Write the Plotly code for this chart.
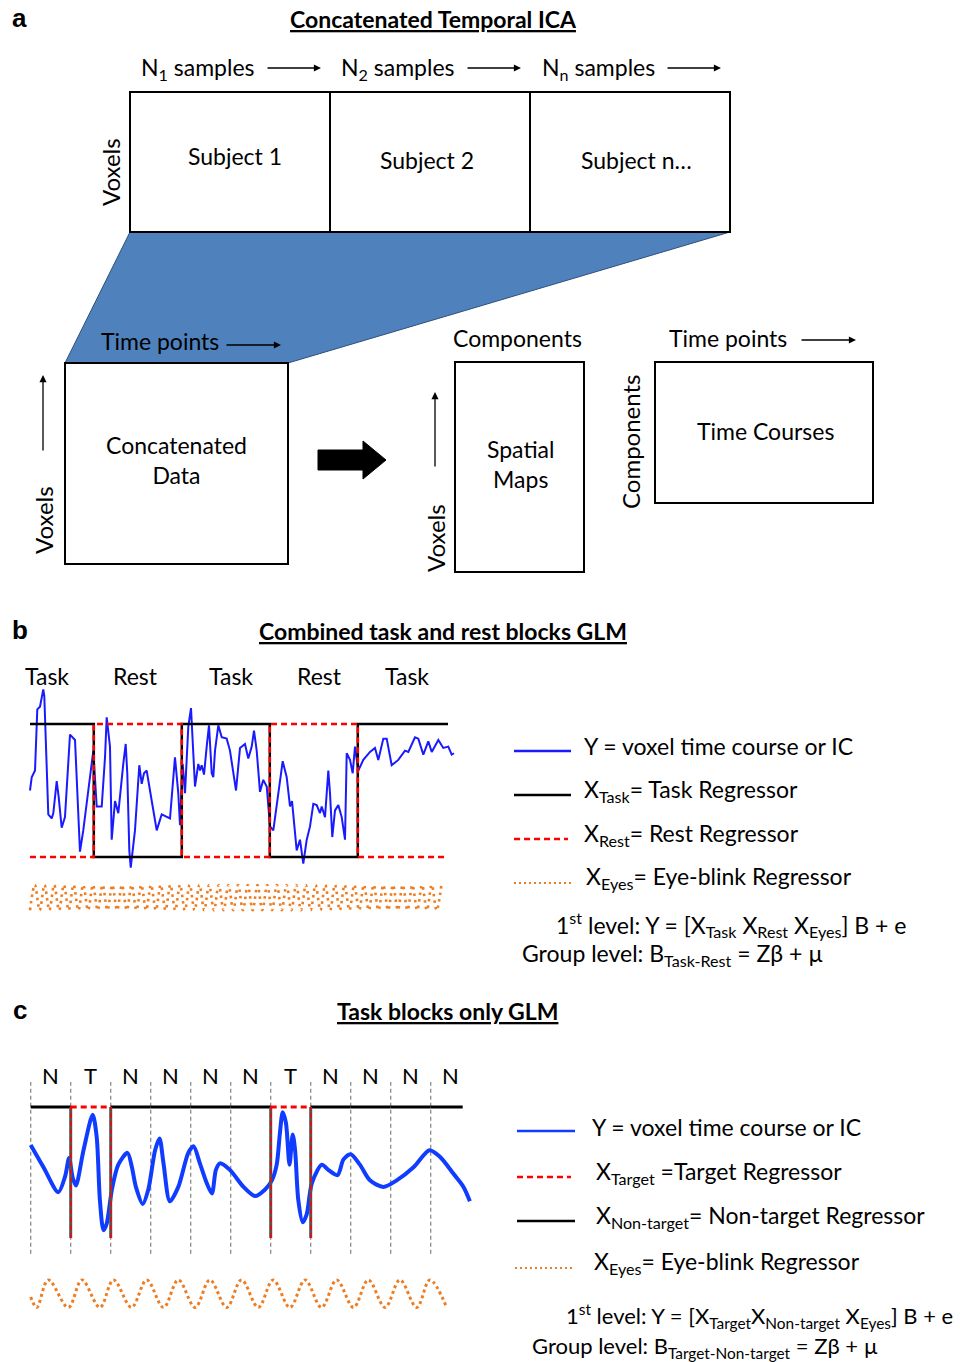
import plotly.graph_objects as go

W, H = 960, 1362

# ---------------- Panel b data (time units, regressor units) ----------------
b_block_edges = [0, 14.5, 34.5, 54.5, 74.5, 95.0]
b_block_labels = ["Task", "Rest", "Task", "Rest", "Task"]
b_label_t = [3.9, 23.9, 45.7, 65.7, 85.7]
b_task = [1, 0, 1, 0, 1]
b_rest = [0, 1, 0, 1, 0]
b_rest_end = 94.3

b_y_t = [0.0, 0.39, 1.14, 1.66, 2.27, 3.02, 3.25, 3.80, 4.16, 4.93, 5.30, 6.07, 6.52, 7.20, 7.95,
         9.09, 10.23, 11.36, 12.11, 13.25, 14.39, 15.16, 16.30, 17.05, 17.43, 18.18, 18.57, 19.32,
         20.07, 21.20, 21.75, 22.11, 22.57, 22.89, 23.86, 24.84, 25.39, 25.91, 26.52, 27.27, 28.80,
         29.93, 31.07, 31.82, 32.95, 33.70, 34.09, 34.70, 35.23, 35.98, 36.59, 36.98, 37.50, 38.25,
         38.64, 39.02, 39.55, 40.16, 40.68, 41.30, 41.66, 42.05, 42.80, 43.57, 44.70, 45.45, 46.82,
         47.73, 48.86, 49.61, 50.39, 50.91, 51.52, 52.27, 53.02, 53.80, 54.55, 55.30, 56.43, 57.43,
         58.34, 59.09, 59.55, 59.84, 60.61, 61.36, 62.11, 62.89, 63.64, 64.39, 65.16, 65.91, 66.30,
         67.05, 67.80, 68.18, 68.70, 69.32, 70.07, 70.84, 71.59, 71.98, 72.73, 73.34, 73.86, 74.61,
         75.75, 77.27, 78.41, 79.16, 80.30, 81.07, 82.20, 83.70, 85.23, 85.98, 87.50, 88.25, 89.39,
         90.52, 91.30, 92.80, 93.93, 95.07, 95.84, 96.36]
b_y_v = [0.50, 0.60, 0.65, 1.11, 1.13, 1.26, 1.21, 0.55, 0.32, 0.29, 0.33, 0.57, 0.45, 0.22, 0.30,
         0.92, 0.88, 0.04, 0.20, 0.50, 0.80, 0.38, 0.38, 0.75, 1.05, 0.83, 0.13, 0.42,
         0.33, 0.70, 0.85, 0.63, 0.05, -0.08, 0.20, 0.69, 0.55, 0.63, 0.65, 0.50, 0.20,
         0.32, 0.30, 0.29, 0.75, 0.48, 0.24, 0.70, 0.48, 0.98, 1.12, 0.88, 0.53, 0.70,
         0.65, 0.69, 0.62, 0.83, 0.99, 0.63, 0.60, 0.80, 0.99, 0.90, 0.89, 0.80, 0.50,
         0.82, 0.85, 0.74, 0.83, 0.95, 0.80, 0.49, 0.58, 0.53, 0.23, 0.20, 0.48, 0.72,
         0.60, 0.38, 0.42, 0.30, 0.05, 0.13, -0.05, 0.13, 0.23, 0.40, 0.39, 0.33, 0.38,
         0.30, 0.65, 0.48, 0.15, 0.35, 0.39, 0.30, 0.13, 0.78, 0.73, 0.63, 0.83, 0.65,
         0.73, 0.79, 0.82, 0.73, 0.89, 0.89, 0.69, 0.73, 0.80, 0.79, 0.90, 0.89, 0.77,
         0.87, 0.79, 0.88, 0.82, 0.83, 0.77, 0.78]

b_eye_t = [0.0, 1.1, 2.2, 3.3, 4.4, 5.5, 6.6, 7.7, 8.8, 9.9, 11.0, 12.1, 13.2, 14.3, 15.4, 16.5,
           17.6, 18.7, 19.8, 20.9, 22.0, 23.1, 24.2, 25.3, 26.4, 27.5, 28.6, 29.7, 30.8, 31.9,
           33.0, 34.1, 35.2, 36.3, 37.4, 38.5, 39.6, 40.7, 41.8, 42.9, 44.0, 45.1, 46.2, 47.3,
           48.4, 49.5, 50.6, 51.7, 52.8, 53.9, 55.0, 56.1, 57.2, 58.3, 59.4, 60.5, 61.6, 62.7,
           63.8, 64.9, 66.0, 67.1, 68.2, 69.3, 70.4, 71.5, 72.6, 73.7, 74.8, 75.9, 77.0, 78.1,
           79.2, 80.3, 81.4, 82.5, 83.6, 84.7, 85.8, 86.9, 88.0, 89.1, 90.2, 91.3, 92.4, 93.5]
b_eye_v = [-0.40, -0.21, -0.40, -0.21, -0.40, -0.21, -0.40, -0.21, -0.40, -0.21, -0.40, -0.21,
           -0.40, -0.21, -0.40, -0.21, -0.40, -0.21, -0.40, -0.21, -0.40, -0.21, -0.40, -0.21,
           -0.40, -0.21, -0.40, -0.21, -0.40, -0.21, -0.40, -0.21, -0.40, -0.21, -0.40, -0.21,
           -0.40, -0.21, -0.40, -0.21, -0.40, -0.21, -0.40, -0.21, -0.40, -0.21, -0.40, -0.21,
           -0.40, -0.21, -0.40, -0.21, -0.40, -0.21, -0.40, -0.21, -0.40, -0.21, -0.40, -0.21,
           -0.40, -0.21, -0.40, -0.21, -0.40, -0.21, -0.40, -0.21, -0.40, -0.21, -0.40, -0.21,
           -0.40, -0.21, -0.40, -0.21, -0.40, -0.21, -0.40, -0.21, -0.40, -0.21, -0.40, -0.21,
           -0.40, -0.21]

# ---------------- Panel c data (block units, regressor units) ----------------
c_blocks = ["N", "T", "N", "N", "N", "N", "T", "N", "N", "N", "N"]
c_end = 10.8
c_grid_top = 1.19
c_grid_bottom = -0.12

c_y_t = [0.00, 0.32, 0.69, 0.86, 0.96, 1.05, 1.13, 1.32, 1.55, 1.65, 1.73, 1.82, 1.90, 2.03, 2.19,
         2.42, 2.53, 2.63, 2.80, 2.94, 3.11, 3.22, 3.32, 3.48, 3.69, 3.94, 4.07, 4.23, 4.40, 4.53,
         4.63, 4.73, 4.98, 5.32, 5.61, 5.86, 6.03, 6.15, 6.23, 6.30, 6.38, 6.47, 6.55, 6.61, 6.69,
         6.80, 6.90, 7.03, 7.28, 7.44, 7.67, 7.82, 8.00, 8.23, 8.48, 8.82, 9.15, 9.57, 9.97, 10.23,
         10.57, 10.82, 10.98]
c_y_v = [0.71, 0.54, 0.35, 0.47, 0.61, 0.46, 0.40, 0.67, 0.94, 0.77, 0.29, 0.06, 0.11, 0.37, 0.56,
         0.65, 0.54, 0.39, 0.26, 0.37, 0.67, 0.76, 0.57, 0.28, 0.39, 0.65, 0.70, 0.57, 0.42, 0.34,
         0.52, 0.57, 0.52, 0.39, 0.32, 0.37, 0.44, 0.56, 0.80, 0.96, 0.88, 0.56, 0.79, 0.67, 0.29,
         0.12, 0.18, 0.42, 0.56, 0.52, 0.48, 0.60, 0.64, 0.56, 0.44, 0.39, 0.44, 0.54, 0.67, 0.62,
         0.49, 0.39, 0.28]

c_eye_t = [0.00, 0.15, 0.44, 0.94, 1.28, 1.73, 2.07, 2.52, 2.90, 3.32, 3.69, 4.11, 4.48, 4.90,
           5.27, 5.69, 6.06, 6.48, 6.86, 7.27, 7.65, 8.07, 8.44, 8.86, 9.23, 9.65, 9.98, 10.40]
c_eye_v = [-0.45, -0.53, -0.32, -0.53, -0.32, -0.53, -0.32, -0.53, -0.32, -0.53, -0.32, -0.53,
           -0.32, -0.53, -0.32, -0.53, -0.32, -0.53, -0.32, -0.53, -0.32, -0.53, -0.32, -0.53,
           -0.32, -0.53, -0.32, -0.53]

# ---------------- style ----------------
FONT = "Lato, Liberation Sans, sans-serif"
BLUE_B = "#1a1aff"
BLUE_C = "#0f3cff"
RED = "#ff0000"
ORANGE = "#ee7d22"
BOXBLUE = "#4f81bd"

fig = go.Figure()

# ---------------- Panel b traces ----------------
fig.add_trace(go.Scatter(x=b_y_t, y=b_y_v, mode="lines", xaxis="x2", yaxis="y2",
                         line=dict(color=BLUE_B, width=2), hoverinfo="skip"))
fig.add_trace(go.Scatter(x=b_eye_t, y=b_eye_v, mode="lines", xaxis="x2", yaxis="y2",
                         line=dict(color=ORANGE, width=2.6, dash="2.5px,4px", shape="spline"),
                         hoverinfo="skip"))
fig.add_trace(go.Scatter(x=b_block_edges, y=b_task + [b_task[-1]], mode="lines",
                         xaxis="x2", yaxis="y2", line=dict(color="black", width=2.5, shape="hv"),
                         hoverinfo="skip"))
fig.add_trace(go.Scatter(x=b_block_edges[:-1] + [b_rest_end], y=b_rest + [b_rest[-1]], mode="lines",
                         xaxis="x2", yaxis="y2",
                         line=dict(color=RED, width=2.5, dash="6px,4px", shape="hv"),
                         hoverinfo="skip"))

# ---------------- Panel c traces ----------------
grid_x, grid_y = [], []
for i in range(len(c_blocks)):
    grid_x += [i, i, None]
    grid_y += [c_grid_bottom, c_grid_top, None]
fig.add_trace(go.Scatter(x=grid_x, y=grid_y, mode="lines", xaxis="x3", yaxis="y3",
                         line=dict(color="#8c8c8c", width=1.3, dash="4px,3px"), hoverinfo="skip"))
fig.add_trace(go.Scatter(x=c_y_t, y=c_y_v, mode="lines", xaxis="x3", yaxis="y3",
                         line=dict(color=BLUE_C, width=4, shape="spline", smoothing=0.8),
                         hoverinfo="skip"))
fig.add_trace(go.Scatter(x=c_eye_t, y=c_eye_v, mode="lines", xaxis="x3", yaxis="y3",
                         line=dict(color=ORANGE, width=3, dash="dot", shape="spline"),
                         hoverinfo="skip"))
nt_x, nt_y, t_x, t_y, v_x, v_y = [], [], [], [], [], []
for i, lab in enumerate(c_blocks):
    x1 = min(i + 1, c_end)
    if lab == "N":
        nt_x += [i, x1, None]
        nt_y += [1, 1, None]
    else:
        t_x += [i, i + 1, None]
        t_y += [1, 1, None]
        v_x += [i, i, None, i + 1, i + 1, None]
        v_y += [0, 1, None, 0, 1, None]
fig.add_trace(go.Scatter(x=nt_x, y=nt_y, mode="lines", xaxis="x3", yaxis="y3",
                         line=dict(color="black", width=3), hoverinfo="skip"))
fig.add_trace(go.Scatter(x=v_x, y=v_y, mode="lines", xaxis="x3", yaxis="y3",
                         line=dict(color="#555555", width=3), hoverinfo="skip"))
fig.add_trace(go.Scatter(x=v_x, y=v_y, mode="lines", xaxis="x3", yaxis="y3",
                         line=dict(color=RED, width=1.5, dash="5px,3px"), hoverinfo="skip"))
fig.add_trace(go.Scatter(x=t_x, y=t_y, mode="lines", xaxis="x3", yaxis="y3",
                         line=dict(color=RED, width=3, dash="6px,4px"), hoverinfo="skip"))

# ---------------- legend samples (canvas coords) ----------------
def leg(x0, x1, y, color, width, dash):
    fig.add_trace(go.Scatter(x=[x0, x1], y=[y, y], mode="lines", xaxis="x", yaxis="y",
                             line=dict(color=color, width=width, dash=dash), hoverinfo="skip"))

leg(514, 571, 751, BLUE_B, 2.5, "solid")
leg(514, 571, 795, "black", 2.5, "solid")
leg(514, 568, 839, RED, 2.5, "6px,4px")
leg(514, 572, 883, ORANGE, 1.8, "2px,3px")
leg(517, 575, 1131, BLUE_C, 2.5, "solid")
leg(517, 571, 1177, RED, 2.5, "6px,4px")
leg(517, 575, 1221, "black", 2.5, "solid")
leg(515, 572, 1268, ORANGE, 1.8, "2px,3px")

# ---------------- shapes for panel a ----------------
shapes = []
def rect(x0, y0, x1, y1, lw=2):
    shapes.append(dict(type="rect", xref="x", yref="y", x0=x0, y0=y0, x1=x1, y1=y1,
                       line=dict(color="black", width=lw), fillcolor="white", layer="above"))

shapes.append(dict(type="path", xref="x", yref="y",
                   path="M 130 232 L 730 232 L 288 363 L 65 363 Z",
                   fillcolor=BOXBLUE, line=dict(color="#2f4f7a", width=1), layer="below"))
rect(130, 92, 330, 232)
rect(330, 92, 530, 232)
rect(530, 92, 730, 232)
rect(65, 363, 288, 564)
rect(455, 362, 584, 572)
rect(655, 362, 873, 503)
shapes.append(dict(type="path", xref="x", yref="y",
                   path="M 318 450 L 363 450 L 363 441 L 386 460 L 363 479 L 363 470 L 318 470 Z",
                   fillcolor="black", line=dict(color="black", width=1)))

# ---------------- annotations ----------------
ann = []
def txt(x, y, s, size=23, anchor="center", angle=0, family=FONT, color="black",
        xref="x", yref="y"):
    ann.append(dict(x=x, y=y, xref=xref, yref=yref, text=s, showarrow=False,
                    xanchor=anchor, yanchor="middle", textangle=angle,
                    font=dict(family=family, size=size, color=color)))

def arrow(x0, y0, x1, y1):
    ann.append(dict(x=x1, y=y1, ax=x0, ay=y0, xref="x", yref="y", axref="x", ayref="y",
                    text="", showarrow=True, arrowhead=2, arrowsize=1.1, arrowwidth=1.3,
                    arrowcolor="black"))

LET = "Liberation Sans, Arial, sans-serif"
# panel a
txt(19, 18, "<b>a</b>", size=26, family=LET)
txt(433, 19, "<b><u>Concatenated Temporal ICA</u></b>")
txt(198, 68, "N<sub>1</sub> samples")
txt(398, 68, "N<sub>2</sub> samples")
txt(598, 68, "N<sub>n</sub> samples")
arrow(266, 68, 321, 68)
arrow(466, 68, 521, 68)
arrow(666, 68, 721, 68)
txt(110, 172, "Voxels", size=24, angle=-90)
txt(235, 156, "Subject 1")
txt(427, 160, "Subject 2")
txt(636, 160, "Subject n…")
txt(160, 341, "Time points")
arrow(225, 345, 281, 345)
txt(43, 520, "Voxels", size=24, angle=-90)
arrow(43, 452, 43, 375)
txt(176, 460, "Concatenated<br>Data")
txt(517, 338, "Components")
txt(435, 538, "Voxels", size=24, angle=-90)
arrow(435, 468, 435, 392)
txt(520, 464, "Spatial<br>Maps")
txt(728, 338, "Time points")
arrow(800, 340, 856, 340)
txt(630, 442, "Components", size=24, angle=-90)
txt(765, 431, "Time Courses")

# panel b
txt(20, 630, "<b>b</b>", size=26, family=LET)
txt(443, 631, "<b><u>Combined task and rest blocks GLM</u></b>")
for t, lab in zip(b_label_t, b_block_labels):
    txt(t, 676, lab, xref="x2")
txt(582, 746, "Y = voxel time course or IC", anchor="left")
txt(582, 790, "X<sub>Task</sub>= Task Regressor", anchor="left")
txt(582, 834, "X<sub>Rest</sub>= Rest Regressor", anchor="left")
txt(584, 877, "X<sub>Eyes</sub>= Eye-blink Regressor", anchor="left")
txt(554, 924, "1<sup>st</sup> level: Y = [X<sub>Task</sub> X<sub>Rest</sub> X<sub>Eyes</sub>] B + e",
    anchor="left")
txt(520, 954, "Group level: B<sub>Task-Rest</sub> = Zβ + µ", anchor="left")

# panel c
txt(20, 1010, "<b>c</b>", size=26, family=LET)
txt(447, 1011, "<b><u>Task blocks only GLM</u></b>")
for i, lab in enumerate(c_blocks):
    txt(i + 0.5, 1075, lab, size=22, xref="x3")
txt(590, 1127, "Y = voxel time course or IC", anchor="left")
txt(594, 1172, "X<sub>Target</sub> =Target Regressor", anchor="left")
txt(594, 1216, "X<sub>Non-target</sub>= Non-target Regressor", anchor="left")
txt(592, 1262, "X<sub>Eyes</sub>= Eye-blink Regressor", anchor="left")
txt(564, 1316, "1<sup>st</sup> level: Y = [X<sub>Target</sub>X<sub>Non-target</sub> X<sub>Eyes</sub>] B + e",
    size=22, anchor="left")
txt(530, 1347, "Group level: B<sub>Target-Non-target</sub> = Zβ + µ", size=22, anchor="left")

hidden = dict(visible=False, showgrid=False, zeroline=False, fixedrange=True)
fig.update_layout(
    width=W, height=H, margin=dict(l=0, r=0, t=0, b=0),
    paper_bgcolor="white", plot_bgcolor="rgba(0,0,0,0)", showlegend=False,
    xaxis=dict(range=[0, W], domain=[0, 1], **hidden),
    yaxis=dict(range=[H, 0], domain=[0, 1], **hidden),
    xaxis2=dict(range=[-2.2727, 100], domain=[20 / W, 470 / W], anchor="y2", **hidden),
    yaxis2=dict(range=[-0.4586, 1.3308], domain=[(H - 918) / H, (H - 680) / H], anchor="x2", **hidden),
    xaxis3=dict(range=[-0.2675, 11.2325], domain=[20 / W, 480 / W], anchor="y3", **hidden),
    yaxis3=dict(range=[-0.5878, 1.2443], domain=[(H - 1315) / H, (H - 1075) / H], anchor="x3", **hidden),
    shapes=shapes, annotations=ann,
)

fig.write_html("out.html", config={"displayModeBar": False},
               post_script="document.body.style.margin='0px';")
